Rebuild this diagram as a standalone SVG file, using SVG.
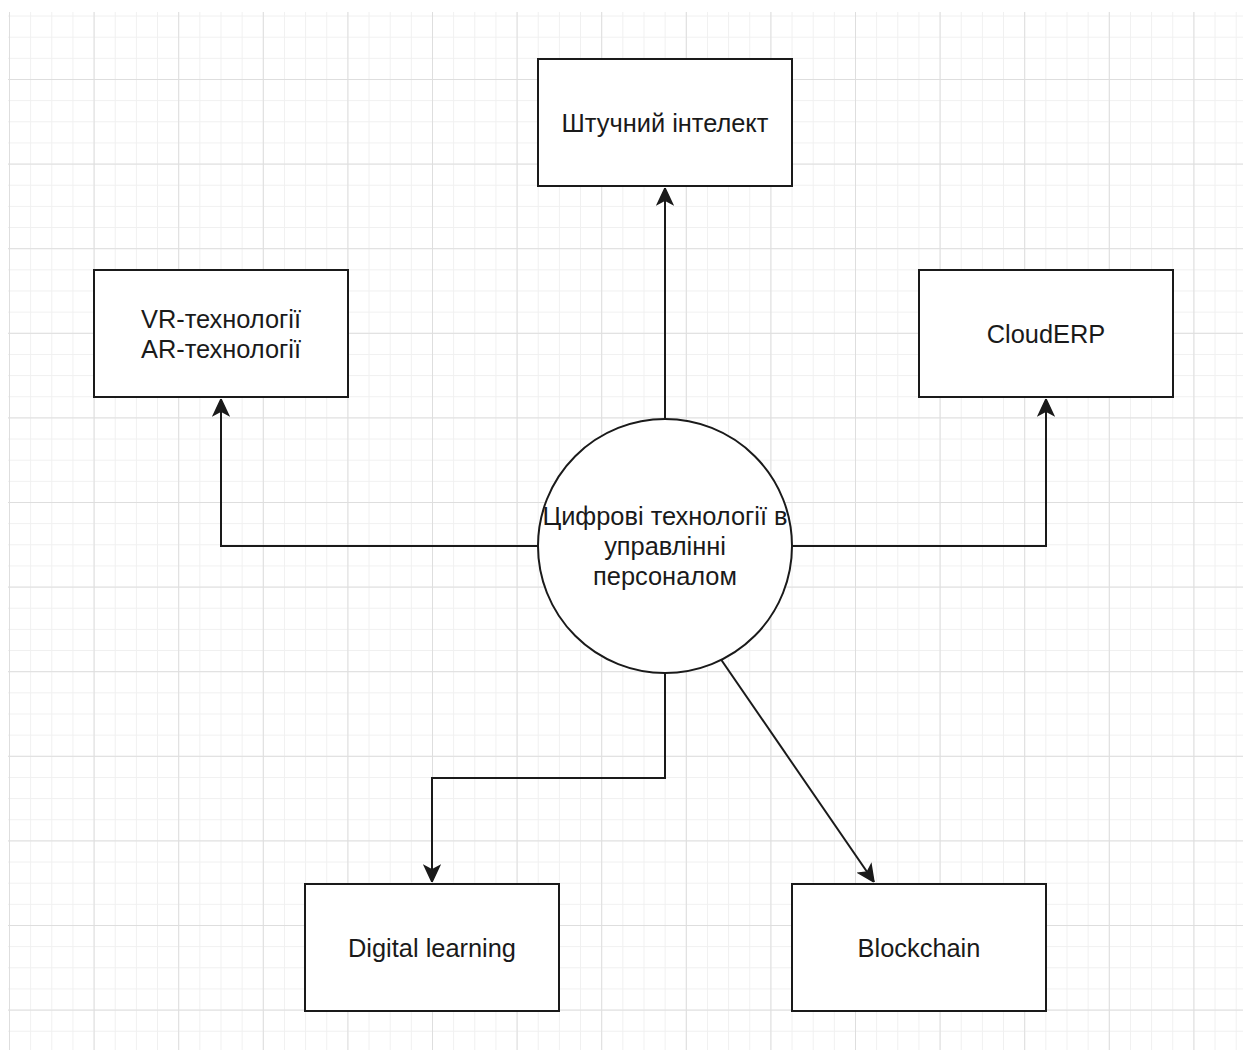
<svg xmlns="http://www.w3.org/2000/svg" width="1243" height="1052" viewBox="0 0 1243 1052">
  <style>
    .node { fill: #ffffff; stroke: #1a1a1a; stroke-width: 2; }
    .label { font-family: "Liberation Sans", Arial, sans-serif; font-size: 25.4px; fill: #1a1a1a; text-anchor: middle; dominant-baseline: central; }
    .edge { fill: none; stroke: #1a1a1a; stroke-width: 2; }
  </style>
  <defs>
    <pattern id="gridMinor" x="9" y="-5.6" width="21.15" height="21.15" patternUnits="userSpaceOnUse">
      <path d="M0,0 V21.15 M0,0 H21.15" fill="none" stroke="#f0f0f0" stroke-width="2"/>
    </pattern>
    <pattern id="gridMajor" x="9" y="-5.6" width="84.6" height="84.6" patternUnits="userSpaceOnUse">
      <path d="M0,0 V84.6 M0,0 H84.6" fill="none" stroke="#dedede" stroke-width="2"/>
    </pattern>
    <marker id="arrow" markerWidth="18" markerHeight="18" viewBox="-18 -9 18 18" refX="0" refY="0" orient="auto" markerUnits="userSpaceOnUse">
      <path d="M0,0 L-16,-7.5 L-12,0 L-16,7.5 Z" fill="#1a1a1a" stroke="#1a1a1a" stroke-width="1.5" stroke-linejoin="miter"/>
    </marker>
  </defs>

  <!-- background and page grid -->
  <rect x="0" y="0" width="1243" height="1052" fill="#ffffff"/>
  <rect x="8" y="12" width="1235" height="1038" fill="url(#gridMinor)"/>
  <rect x="8" y="12" width="1235" height="1038" fill="url(#gridMajor)"/>

  <!-- connectors -->
  <g id="connectors">
    <path class="edge" d="M665,418 V188" marker-end="url(#arrow)"/>
    <path class="edge" d="M538,546 H221 V399" marker-end="url(#arrow)"/>
    <path class="edge" d="M792,546 H1046 V399" marker-end="url(#arrow)"/>
    <path class="edge" d="M665,673 V778 H432 V882" marker-end="url(#arrow)"/>
    <path class="edge" d="M720,658 L874,882" marker-end="url(#arrow)"/>
  </g>

  <!-- nodes -->
  <g id="node-center">
    <circle class="node" cx="665" cy="546" r="127"/>
    <text class="label" x="665" y="516">Цифрові технології в</text>
    <text class="label" x="665" y="546">управлінні</text>
    <text class="label" x="665" y="576">персоналом</text>
  </g>
  <g id="node-ai">
    <rect class="node" x="538" y="59" width="254" height="127"/>
    <text class="label" x="665" y="122.5">Штучний інтелект</text>
  </g>
  <g id="node-vr-ar">
    <rect class="node" x="94" y="270" width="254" height="127"/>
    <text class="label" x="221" y="319">VR-технології</text>
    <text class="label" x="221" y="349">AR-технології</text>
  </g>
  <g id="node-clouderp">
    <rect class="node" x="919" y="270" width="254" height="127"/>
    <text class="label" x="1046" y="334">CloudERP</text>
  </g>
  <g id="node-digital-learning">
    <rect class="node" x="305" y="884" width="254" height="127"/>
    <text class="label" x="432" y="948">Digital learning</text>
  </g>
  <g id="node-blockchain">
    <rect class="node" x="792" y="884" width="254" height="127"/>
    <text class="label" x="919" y="948">Blockchain</text>
  </g>
</svg>
